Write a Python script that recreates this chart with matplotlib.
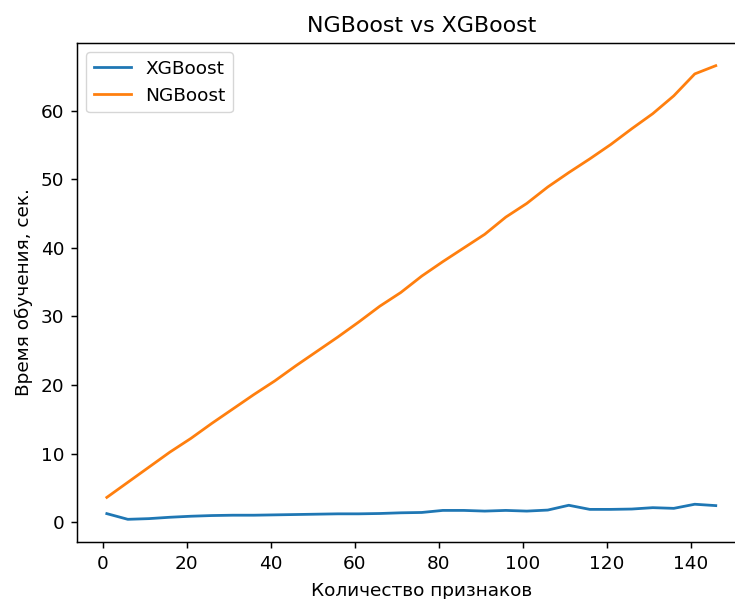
import matplotlib
matplotlib.use("Agg")
import matplotlib.pyplot as plt

n_features = list(range(1, 147, 5))
xgb_time = [1.23, 0.4, 0.5, 0.7, 0.85, 0.95, 1.0, 1.0, 1.05, 1.1, 1.15, 1.2, 1.2, 1.25, 1.35,
            1.4, 1.7, 1.7, 1.6, 1.7, 1.6, 1.75, 2.45, 1.85, 1.85, 1.9, 2.1, 2.0, 2.6, 2.4]
ngb_time = [3.6, 5.8, 8.0, 10.2, 12.2, 14.4, 16.5, 18.6, 20.6, 22.8, 24.9, 27.0, 29.2, 31.5, 33.5,
            35.9, 38.0, 40.0, 42.0, 44.5, 46.5, 48.9, 51.0, 53.0, 55.1, 57.4, 59.6, 62.2, 65.4, 66.6]

s = 1.33
plt.rcParams['font.family'] = ['DejaVu Sans']
fig = plt.figure(figsize=(7.35, 5.99), dpi=100)
ax = fig.add_axes([77/735, 1-542/599, 690/735, (542-43)/599])
ax.plot(n_features, xgb_time, label='XGBoost', color='#1f77b4', lw=1.5*s)
ax.plot(n_features, ngb_time, label='NGBoost', color='#ff7f0e', lw=1.5*s)
ax.set_xlim(-6.1, 158.2)
ax.set_title('NGBoost vs XGBoost', fontsize=12*s, pad=6*s)
ax.set_xlabel('Количество признаков', fontsize=10*s, labelpad=5*s)
ax.set_ylabel('Время обучения, сек.', fontsize=10*s, labelpad=4*s)
ax.tick_params(labelsize=10*s, length=3.5*s, width=0.8*s, pad=3.5*s)
for sp in ax.spines.values():
    sp.set_linewidth(0.8*s)
ax.legend(loc='upper left', fontsize=10*s)
fig.savefig('out.png', dpi=100)
